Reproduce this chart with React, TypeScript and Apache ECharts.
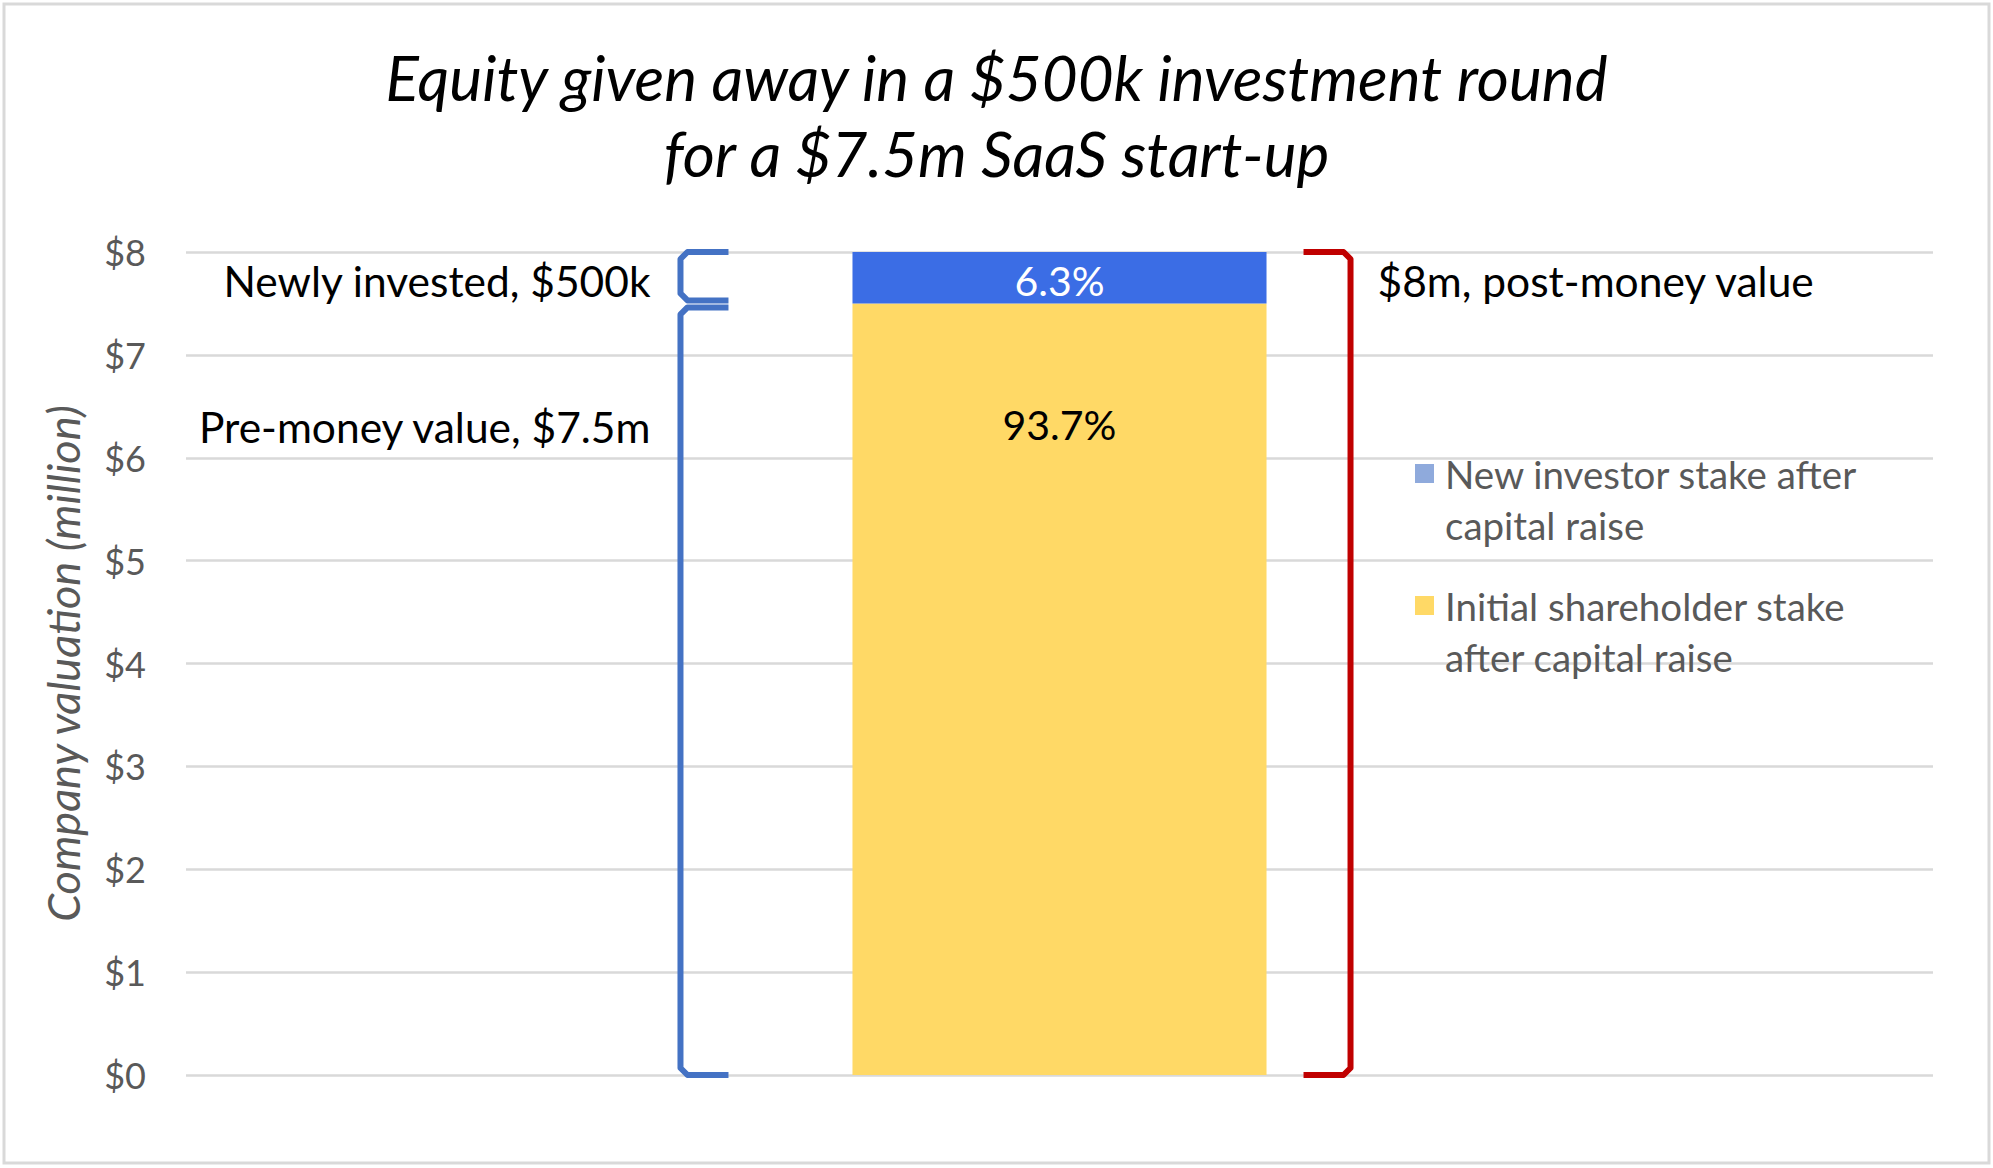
import React, { useEffect, useRef } from 'react';
import * as echarts from 'echarts';

// ---- data ----
const categories = ['SaaS start-up'];
const seriesNames = [
  'New investor stake after\ncapital raise',
  'Initial shareholder stake\nafter capital raise',
];
const newInvestorValues = [0.5];
const initialShareholderValues = [7.5];
const shareLabels = ['6.3%', '93.7%'];
const yTickLabels = ['$0', '$1', '$2', '$3', '$4', '$5', '$6', '$7', '$8'];
const yAxisName = 'Company valuation (million)';
const titleLines = ['Equity given away in a $500k investment round', 'for a $7.5m SaaS start-up'];
// bracket annotations: value ranges and label anchor values
const leftBrackets = [
  { from: 8, to: 7.5, labelAt: 7.72, label: 'Newly invested, $500k' },
  { from: 7.5, to: 0, labelAt: 6.3, label: 'Pre-money value, $7.5m' },
];
const rightBrackets = [{ from: 8, to: 0, labelAt: 7.72, label: '$8m, post-money value' }];

const FONT = 'Lato, "Noto Sans", sans-serif';
const W = 1993;
const H = 1168;
const GRID = { left: 186, right: 60, top: 252, bottom: 93 };
const BAR_FRAC = 0.237;

export default function App() {
  const ref = useRef<HTMLDivElement>(null);
  useEffect(() => {
    document.body.style.margin = '0';
    const chart = echarts.init(ref.current!, null, { renderer: 'svg' });
    const option: any = {
      animation: false,
      backgroundColor: '#ffffff',
      title: {
        text: titleLines.join('\n'),
        left: 'center',
        top: 34,
        textStyle: {
          fontFamily: FONT,
          fontStyle: 'italic',
          fontWeight: 'normal',
          fontSize: 62,
          lineHeight: 76,
          color: '#000000',
        },
      },
      grid: { ...GRID },
      legend: [0, 1].map((i) => ({
        orient: 'vertical',
        left: 1415,
        top: i === 0 ? 397 : 529,
        padding: 0,
        icon: 'rect',
        itemWidth: 19,
        itemHeight: 19,
        selectedMode: false,
        formatter: (name: string) => '\n' + name,
        data: [
          {
            name: seriesNames[i],
            itemStyle: { color: i === 0 ? '#8FAADC' : '#FFD966' },
          },
        ],
        textStyle: {
          fontFamily: FONT,
          fontSize: 38.5,
          lineHeight: 51,
          color: '#595959',
          padding: [0, 0, 0, 6],
        },
      })),
      xAxis: {
        type: 'category',
        data: categories,
        axisLine: { show: false },
        axisTick: { show: false },
        axisLabel: { show: false },
      },
      yAxis: {
        type: 'value',
        min: 0,
        max: 8,
        interval: 1,
        name: yAxisName,
        nameLocation: 'middle',
        nameGap: 101,
        nameTextStyle: {
          fontFamily: FONT,
          fontStyle: 'italic',
          fontSize: 45,
          color: '#595959',
        },
        axisLine: { show: false },
        axisTick: { show: false },
        axisLabel: {
          formatter: (v: number) => yTickLabels[v] ?? '',
          fontFamily: FONT,
          fontSize: 36,
          color: '#595959',
          margin: 40,
        },
        splitLine: { lineStyle: { color: '#D9D9D9', width: 2.5 } },
      },
      series: [
        {
          name: seriesNames[1],
          type: 'bar',
          stack: 'total',
          barWidth: BAR_FRAC * 100 + '%',
          data: initialShareholderValues,
          itemStyle: { color: '#FFD966' },
          label: {
            show: true,
            position: ['50%', 121],
            align: 'center',
            verticalAlign: 'middle',
            formatter: () => shareLabels[1],
            fontFamily: FONT,
            fontSize: 41,
            color: '#000000',
          },
        },
        {
          name: seriesNames[0],
          type: 'bar',
          stack: 'total',
          data: newInvestorValues,
          itemStyle: { color: '#3B6DE5' },
          label: {
            show: true,
            position: 'inside',
            offset: [0, 3],
            formatter: () => shareLabels[0],
            fontFamily: FONT,
            fontSize: 41,
            color: '#ffffff',
          },
        },
      ],
    };
    chart.setOption(option);

    const y = (v: number) => chart.convertToPixel({ yAxisIndex: 0 }, v) as number;
    const cx = chart.convertToPixel({ xAxisIndex: 0 }, categories[0]) as number;
    const barW = (W - GRID.left - GRID.right) * BAR_FRAC;
    const barL = cx - barW / 2;
    const barR = cx + barW / 2;

    const blueX = barL - 172;
    const blueTip = barL - 124;
    const redX = barR + 84;
    const redTip = barR + 37;
    const r = 7;

    const graphics: any[] = [
      {
        type: 'rect',
        shape: { x: 4, y: 4, width: W - 8, height: H - 9 },
        style: { fill: 'none', stroke: '#D9D9D9', lineWidth: 3 },
        silent: true,
      },
    ];

    leftBrackets.forEach((b, i) => {
      const yt = y(b.from) + (i === 0 ? 0 : 4);
      const yb = y(b.to) - (i === 0 ? 3 : 0);
      graphics.push({
        type: 'polyline',
        shape: {
          points: [
            [blueTip, yt],
            [blueX + r, yt],
            [blueX, yt + r],
            [blueX, yb - r],
            [blueX + r, yb],
            [blueTip, yb],
          ],
        },
        style: { stroke: '#4472C4', lineWidth: 6, fill: 'none', lineJoin: 'round' },
      });
      graphics.push({
        type: 'text',
        x: blueX - 30,
        y: y(b.labelAt),
        style: {
          text: b.label,
          fontFamily: FONT,
          fontSize: 42.5,
          fill: '#000000',
          align: 'right',
          verticalAlign: 'middle',
        },
      });
    });

    rightBrackets.forEach((b) => {
      const yt = y(b.from);
      const yb = y(b.to);
      graphics.push({
        type: 'polyline',
        shape: {
          points: [
            [redTip, yt],
            [redX - r, yt],
            [redX, yt + r],
            [redX, yb - r],
            [redX - r, yb],
            [redTip, yb],
          ],
        },
        style: { stroke: '#C00000', lineWidth: 6, fill: 'none', lineJoin: 'round' },
      });
      graphics.push({
        type: 'text',
        x: redX + 27,
        y: y(b.labelAt),
        style: {
          text: b.label,
          fontFamily: FONT,
          fontSize: 42.5,
          fill: '#000000',
          align: 'left',
          verticalAlign: 'middle',
        },
      });
    });

    chart.setOption({ graphic: graphics });
    return () => chart.dispose();
  }, []);
  return <div ref={ref} style={{ width: W, height: H }} />;
}
